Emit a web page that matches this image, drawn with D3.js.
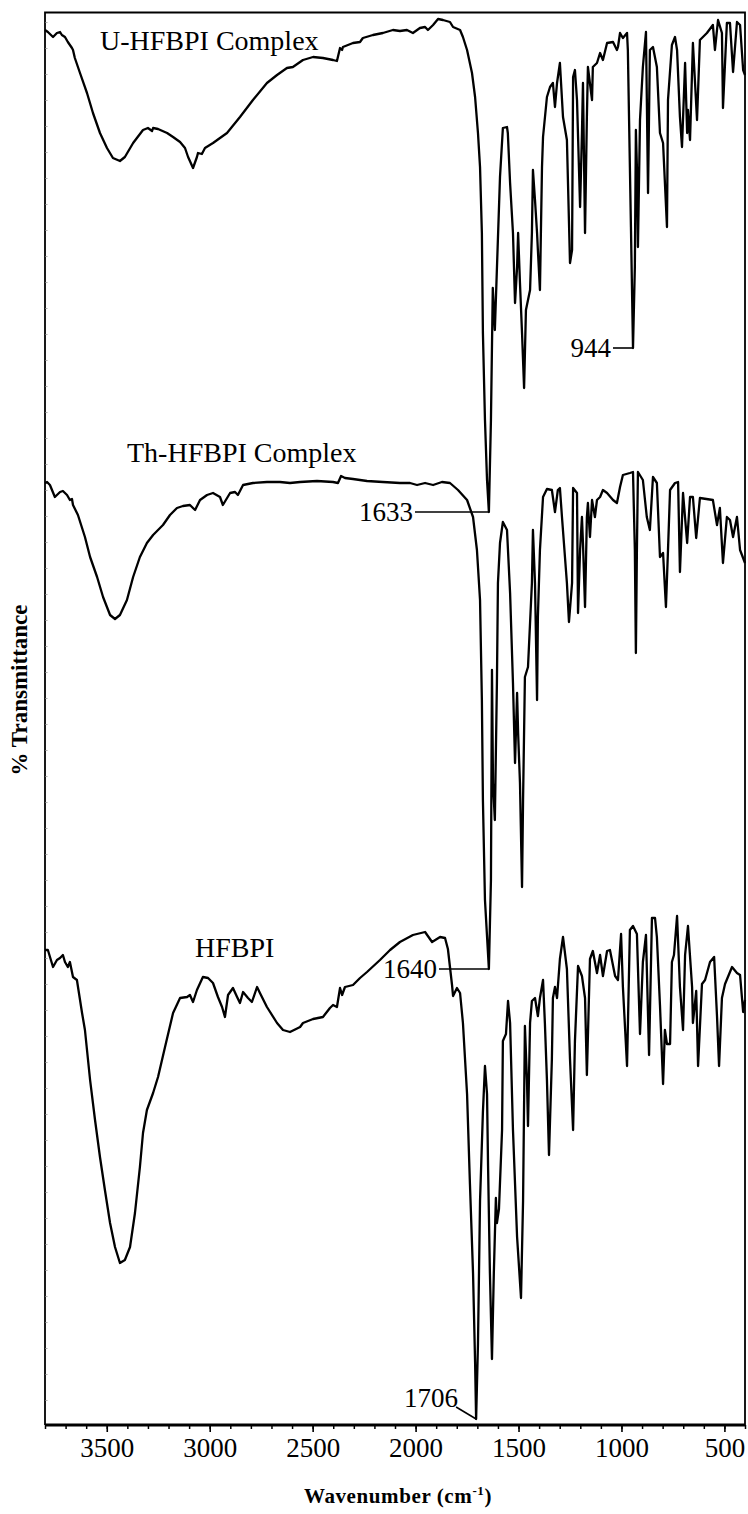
<!DOCTYPE html>
<html>
<head>
<meta charset="utf-8">
<script src="https://cdn.jsdelivr.net/npm/d3@7"></script>
<style>
body { margin: 0; background: #fff; }
svg text { font-family: "Liberation Serif", "Times New Roman", serif; fill: #000; }
</style>
</head>
<body>
<script>
// spectra as [wavenumber (cm-1), transmittance (stacked, arbitrary units)]
var uComplex = [
 [3800,139.5],[3786,139.3],[3761,138.8],[3742,139.2],[3727,139.3],[3718,139.0],[3703,138.8],[3689,138.3],
 [3669,137.7],[3664,137.5],[3655,136.7],[3630,135.2],[3596,133.2],[3567,131.2],[3533,129.2],[3499,127.7],
 [3470,126.7],[3436,126.4],[3412,126.8],[3372,128.2],[3324,129.5],[3300,129.7],[3280,129.4],[3275,129.7],
 [3251,129.6],[3207,129.2],[3178,128.8],[3144,128.3],[3120,127.7],[3105,126.8],[3081,125.7],[3062,126.8],
 [3057,127.2],[3038,127.1],[3023,127.7],[2984,128.2],[2916,129.2],[2853,130.8],[2790,132.5],[2722,134.2],
 [2673,135.0],[2625,135.7],[2596,135.8],[2547,136.5],[2498,136.8],[2450,136.7],[2401,136.5],[2382,136.4],
 [2367,137.7],[2357,137.5],[2353,137.8],[2304,138.2],[2270,138.3],[2256,138.7],[2207,139.0],[2159,139.2],
 [2110,139.5],[2076,139.4],[2042,139.5],[2013,139.2],[1979,139.7],[1954,139.8],[1940,139.5],[1915,140.0],
 [1891,140.6],[1867,140.5],[1833,140.3],[1818,139.8],[1784,139.5],[1770,138.8],[1750,137.5],[1726,135.2],
 [1711,132.8],[1697,129.2],[1687,125.8],[1678,119.2],[1673,109.2],[1663,100.5],[1653,94.5],[1644,91.3],
 [1634,100.5],[1625,113.7],[1615,109.5],[1590,124.8],[1576,129.7],[1556,129.8],[1552,129.2],[1541,124.2],
 [1527,119.2],[1517,112.2],[1507,115.8],[1502,119.2],[1493,114.2],[1483,109.2],[1473,103.7],[1464,111.5],
 [1444,113.5],[1435,119.2],[1430,125.5],[1420,122.5],[1410,119.2],[1406,117.5],[1396,113.5],[1386,125.8],
 [1381,128.8],[1362,132.8],[1347,133.8],[1333,134.2],[1323,131.8],[1313,134.2],[1299,136.2],[1284,130.8],
 [1265,128.5],[1250,116.2],[1240,117.5],[1235,134.8],[1226,135.5],[1216,132.5],[1201,121.8],[1192,129.2],
 [1187,134.2],[1177,119.2],[1168,130.8],[1163,135.8],[1143,132.5],[1139,135.8],[1119,136.2],[1104,137.2],
 [1090,136.5],[1070,138.2],[1041,138.3],[1022,137.5],[1017,137.8],[1007,139.2],[993,138.7],[973,139.2],
 [969,137.5],[954,119.8],[944,107.7],[935,115.8],[930,129.5],[925,125.8],[920,117.8],[910,130.5],
 [896,135.8],[881,139.3],[871,123.2],[862,137.5],[847,137.8],[828,135.8],[813,129.2],[798,128.2],
 [779,119.8],[774,132.5],[755,138.0],[740,138.8],[730,137.5],[716,130.8],[706,127.8],[691,136.2],
 [681,129.2],[677,131.5],[667,128.5],[653,138.2],[633,130.5],[619,138.5],[585,139.2],[556,140.0],
 [546,137.5],[531,140.5],[512,139.2],[507,131.7],[488,140.2],[473,140.2],[458,135.3],[439,140.3],
 [424,140.0],[409,135.5],[400,135.0]
];

var thComplex = [
 [3800,94.2],[3790,94.3],[3776,94.0],[3752,92.8],[3727,93.3],[3713,93.4],[3693,93.0],[3679,92.5],
 [3669,92.6],[3664,92.0],[3640,91.0],[3606,88.8],[3581,86.8],[3547,84.8],[3518,82.8],[3484,81.0],
 [3460,80.6],[3436,81.0],[3402,82.5],[3372,84.8],[3339,86.8],[3305,88.2],[3275,89.0],[3227,90.0],
 [3193,91.0],[3159,91.7],[3130,91.9],[3096,92.0],[3071,91.5],[3047,92.5],[3013,93.0],[2984,93.2],
 [2950,92.8],[2936,92.0],[2901,93.2],[2877,93.3],[2863,93.0],[2838,94.0],[2790,94.2],[2722,94.3],
 [2659,94.3],[2610,94.2],[2561,94.3],[2479,94.4],[2401,94.3],[2377,94.2],[2362,94.9],[2343,94.7],
 [2304,94.6],[2236,94.4],[2159,94.3],[2076,94.2],[2027,94.2],[1993,94.0],[1954,94.2],[1915,94.0],
 [1872,94.3],[1833,94.2],[1794,93.5],[1750,92.5],[1721,90.8],[1702,87.5],[1687,82.5],[1678,72.5],
 [1673,62.5],[1663,52.5],[1644,45.6],[1634,54.5],[1629,75.5],[1624,64.2],[1615,60.5],[1605,74.2],
 [1600,84.2],[1590,88.2],[1576,90.3],[1556,89.5],[1541,83.2],[1527,74.2],[1517,66.2],[1507,73.2],
 [1502,69.2],[1493,64.2],[1483,53.8],[1478,62.5],[1469,74.8],[1454,75.8],[1435,84.2],[1430,89.5],
 [1420,84.2],[1410,72.5],[1406,80.8],[1396,87.5],[1381,92.8],[1362,93.6],[1338,93.5],[1323,91.3],
 [1309,93.5],[1299,93.7],[1289,90.8],[1265,84.2],[1255,80.3],[1240,84.2],[1235,93.7],[1216,93.2],
 [1211,81.2],[1201,87.5],[1192,90.8],[1187,88.2],[1177,81.8],[1168,90.8],[1163,92.2],[1153,88.8],
 [1143,92.5],[1129,90.8],[1119,92.5],[1104,92.8],[1090,93.5],[1070,93.2],[1041,92.5],[1022,92.2],
 [1007,93.8],[993,95.0],[959,95.2],[944,95.3],[935,87.5],[930,77.2],[925,87.5],[920,95.3],
 [896,94.5],[877,90.8],[862,89.5],[847,94.8],[828,94.2],[813,86.8],[798,87.2],[784,81.8],
 [774,87.5],[764,93.5],[740,94.2],[725,94.3],[716,85.3],[701,93.2],[681,88.2],[667,92.8],
 [653,92.8],[637,88.7],[619,92.7],[556,92.5],[536,90.0],[522,91.7],[507,86.2],[488,90.8],
 [473,90.5],[458,88.8],[439,90.8],[424,87.5],[400,86.2]
];

var hfbpi = [
 [3800,47.5],[3786,47.5],[3761,45.8],[3742,46.5],[3727,46.7],[3713,47.0],[3703,46.3],[3689,45.8],
 [3679,46.3],[3664,44.8],[3645,44.5],[3620,41.2],[3606,39.5],[3581,34.5],[3557,30.5],[3533,26.8],
 [3509,23.5],[3484,20.2],[3460,17.8],[3436,16.2],[3412,16.5],[3387,17.8],[3363,21.2],[3339,25.8],
 [3324,29.2],[3305,31.5],[3275,33.2],[3251,34.8],[3217,37.8],[3178,41.2],[3144,42.7],[3110,42.8],
 [3096,43.0],[3081,42.3],[3062,43.5],[3033,44.8],[3008,44.7],[2984,44.2],[2960,42.8],[2940,41.8],
 [2926,40.8],[2911,43.0],[2887,43.7],[2867,42.8],[2853,42.2],[2838,43.3],[2814,42.7],[2795,42.3],
 [2770,43.8],[2756,43.2],[2722,41.8],[2673,40.2],[2644,39.5],[2610,39.3],[2561,39.8],[2547,40.2],
 [2498,40.6],[2450,40.8],[2416,41.7],[2401,42.0],[2382,41.8],[2367,43.7],[2357,43.0],[2343,43.8],
 [2304,44.0],[2270,44.7],[2236,45.3],[2173,46.5],[2124,47.5],[2076,48.3],[2013,49.0],[1954,49.3],
 [1920,48.3],[1881,48.8],[1857,48.7],[1843,47.6],[1823,44.0],[1818,42.9],[1799,43.7],[1784,43.2],
 [1770,40.2],[1750,33.1],[1736,24.1],[1721,15.2],[1711,6.3],[1706,0.6],[1697,8.1],[1687,22.4],
 [1673,31.3],[1663,35.9],[1653,33.1],[1648,25.9],[1639,15.2],[1629,6.6],[1620,15.2],[1610,22.7],
 [1605,20.2],[1595,21.6],[1580,29.5],[1576,38.4],[1561,39.1],[1551,42.4],[1541,40.2],[1527,29.5],
 [1507,18.8],[1488,12.7],[1478,22.4],[1469,39.9],[1459,34.5],[1454,29.9],[1444,40.2],[1435,42.4],
 [1420,42.7],[1406,40.9],[1396,42.7],[1381,44.5],[1372,40.2],[1362,34.5],[1352,27.0],[1338,36.6],
 [1333,42.7],[1323,43.8],[1313,42.7],[1299,46.6],[1284,48.8],[1265,45.6],[1250,36.6],[1235,29.5],
 [1226,38.4],[1211,45.9],[1192,44.9],[1177,42.7],[1168,35.0],[1153,46.6],[1139,47.4],[1119,45.2],
 [1104,47.0],[1090,44.9],[1070,47.4],[1056,47.5],[1031,44.9],[1017,44.5],[1002,49.1],[993,43.8],
 [973,35.9],[959,49.5],[944,49.9],[925,49.1],[910,39.1],[896,46.3],[881,49.0],[866,37.0],
 [852,50.7],[837,50.7],[828,48.8],[813,42.0],[798,34.1],[789,39.5],[779,38.1],[764,38.1],
 [755,46.3],[745,47.0],[730,50.9],[716,43.8],[701,39.5],[691,47.0],[677,49.9],[657,43.8],
 [653,40.2],[637,43.4],[628,35.9],[609,44.1],[594,44.5],[570,46.3],[550,46.8],[536,40.9],
 [526,35.9],[512,42.7],[497,44.1],[463,45.8],[439,45.2],[424,45.0],[409,41.3],[400,42.5]
];

var seriesNames = ["U-HFBPI Complex", "Th-HFBPI Complex", "HFBPI"];
var tickLabels = [3500, 3000, 2500, 2000, 1500, 1000, 500];
var minorTicks = d3.range(400, 3801, 100);
var peakLabels = ["1633", "1640", "944", "1706"];
var peakWaves = [1633, 1640, 944, 1706];

function init(){

    var w = 748;
    var h = 1514;
    var left = 45, right = 745, top = 12.5, bottom = 1425;

    var svg = d3.select("body")
                .append("svg")
                .attr("width", w)
                .attr("height", h);

    var x = d3.scaleLinear().domain([3800, 400]).range([left, right]);
    var y = d3.scaleLinear().domain([0, 141.25]).range([bottom, top]);

    // frame: top, right, left
    svg.append("path")
        .attr("d", "M" + left + "," + bottom + "V" + top + "H" + right + "V" + bottom)
        .attr("fill", "none")
        .attr("stroke", "#000")
        .attr("stroke-width", 1.8);

    // faint ticks on the left axis
    var yAxis = d3.axisRight(y).tickValues(d3.range(2.5, 141, 2.6)).tickSize(2.5).tickFormat("");
    svg.append("g")
        .attr("transform", "translate(" + left + ",0)")
        .call(yAxis)
        .call(function(g){ g.select(".domain").remove(); })
        .selectAll("line").attr("stroke", "#888").attr("stroke-width", 0.7);

    // bottom axis: minor ticks
    svg.append("g")
        .attr("transform", "translate(0," + bottom + ")")
        .call(d3.axisBottom(x).tickValues(minorTicks).tickSize(4).tickFormat(""))
        .call(function(g){ g.select(".domain").remove(); })
        .selectAll("line").attr("stroke-width", 1.5);

    // bottom axis: major ticks + labels
    var xAxis = svg.append("g")
        .attr("transform", "translate(0," + bottom + ")")
        .call(d3.axisBottom(x).tickValues(tickLabels).tickSize(7).tickPadding(6).tickFormat(d3.format("d")));
    xAxis.select(".domain")
        .attr("d", "M" + left + ",0H" + right)
        .attr("stroke-width", 2.8);
    xAxis.selectAll("line").attr("stroke-width", 1.6);
    xAxis.selectAll("text")
        .style("font-family", "'Liberation Serif', serif")
        .style("font-size", "27px");

    // spectra
    var line = d3.line()
        .x(function(d){ return x(d[0]); })
        .y(function(d){ return y(d[1]); });

    var spectra = [uComplex, thComplex, hfbpi];
    svg.selectAll("path.spectrum")
        .data(spectra)
        .enter()
        .append("path")
        .attr("class", "spectrum")
        .attr("d", line)
        .attr("fill", "none")
        .attr("stroke", "#000")
        .attr("stroke-width", 2.3)
        .attr("stroke-linejoin", "round");

    // series labels
    var namePos = [[100, 50], [127, 462], [195, 957]];
    svg.selectAll("text.name")
        .data(seriesNames)
        .enter()
        .append("text")
        .attr("class", "name")
        .attr("x", function(d, i){ return namePos[i][0]; })
        .attr("y", function(d, i){ return namePos[i][1]; })
        .style("font-size", "28px")
        .text(function(d){ return d; });

    // peak annotations
    var peakSeries = [uComplex, thComplex, uComplex, hfbpi];
    peakWaves.forEach(function(pw, i){
        var near = peakSeries[i].filter(function(d){ return Math.abs(d[0] - pw) <= 20; });
        var p = d3.least(near, function(d){ return d[1]; });
        var px = x(p[0]), py = y(p[1]);
        if (i < 3) {
            var lx = [415, 439, 613][i];
            svg.append("line")
                .attr("x1", lx).attr("y1", py)
                .attr("x2", px).attr("y2", py)
                .attr("stroke", "#000").attr("stroke-width", 1.6);
            svg.append("text")
                .attr("x", lx - 2).attr("y", py + 9)
                .attr("text-anchor", "end")
                .style("font-size", "27px")
                .text(peakLabels[i]);
        } else {
            svg.append("line")
                .attr("x1", px - 20).attr("y1", py - 12)
                .attr("x2", px).attr("y2", py)
                .attr("stroke", "#000").attr("stroke-width", 1.6);
            svg.append("text")
                .attr("x", px - 18).attr("y", py - 12)
                .attr("text-anchor", "end")
                .style("font-size", "27px")
                .text(peakLabels[i]);
        }
    });

    // axis titles
    var xt = svg.append("text")
        .attr("x", 398)
        .attr("y", 1503)
        .attr("text-anchor", "middle")
        .style("font-size", "21px")
        .style("font-weight", "bold")
        .style("letter-spacing", "0.6px");
    xt.append("tspan").text("Wavenumber (cm");
    xt.append("tspan").attr("dy", -8).style("font-size", "13px").text("-1");
    xt.append("tspan").attr("dy", 8).text(")");

    svg.append("text")
        .attr("transform", "translate(27,690) rotate(-90)")
        .attr("text-anchor", "middle")
        .style("font-size", "23px")
        .style("font-weight", "bold")
        .text("% Transmittance");
}

init();
</script>
</body>
</html>
